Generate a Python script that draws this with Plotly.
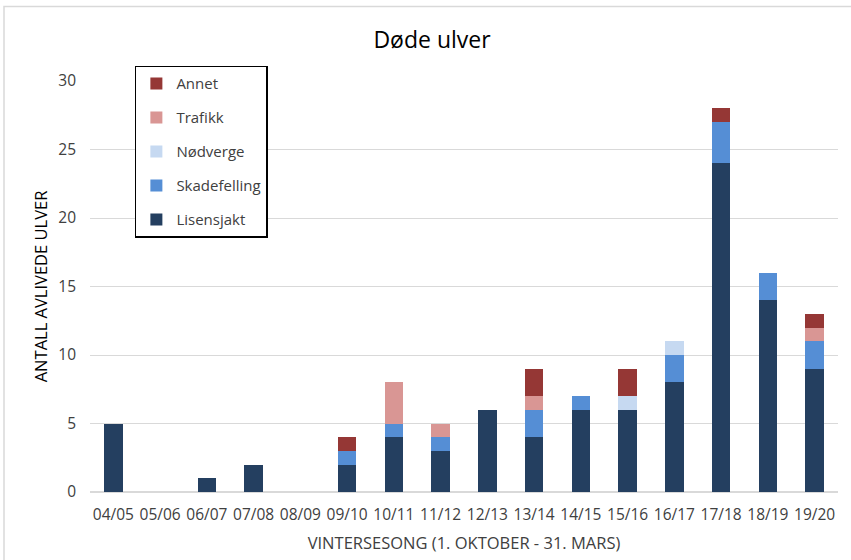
import plotly.graph_objects as go

seasons = ["04/05", "05/06", "06/07", "07/08", "08/09", "09/10", "10/11", "11/12",
           "12/13", "13/14", "14/15", "15/16", "16/17", "17/18", "18/19", "19/20"]
lisensjakt = [5, 0, 1, 2, 0, 2, 4, 3, 6, 4, 6, 6, 8, 24, 14, 9]
skadefelling = [0, 0, 0, 0, 0, 1, 1, 1, 0, 2, 1, 0, 2, 3, 2, 2]
nodverge = [0, 0, 0, 0, 0, 0, 0, 0, 0, 0, 0, 1, 1, 0, 0, 0]
trafikk = [0, 0, 0, 0, 0, 0, 3, 1, 0, 1, 0, 0, 0, 0, 0, 1]
annet = [0, 0, 0, 0, 0, 1, 0, 0, 0, 2, 0, 2, 0, 1, 0, 1]

series = [
    ("Lisensjakt", lisensjakt, "#243F60"),
    ("Skadefelling", skadefelling, "#558ED5"),
    ("Nødverge", nodverge, "#C6D9F1"),
    ("Trafikk", trafikk, "#D99694"),
    ("Annet", annet, "#953735"),
]

font = "'Open Sans', sans-serif"
txt = "#404040"

fig = go.Figure()
for i, (name, vals, color) in enumerate(series):
    fig.add_trace(go.Bar(
        x=seasons, y=vals, name=name, legendgroup=name,
        legendrank=len(series) - i,
        marker=dict(color=color, line=dict(width=0)),
    ))

fig.update_layout(
    barmode="stack",
    bargap=0.6,
    width=851, height=560,
    margin=dict(l=90, r=13, t=81, b=68),
    paper_bgcolor="white", plot_bgcolor="white",
    font=dict(family=font, size=15, color=txt),
    title=dict(text="Døde ulver", xref="container", x=432 / 851, xanchor="center",
               y=0.928, yanchor="middle",
               font=dict(size=23, color="#000000")),
    legend=dict(
        x=0.06, y=1.037, xanchor="left", yanchor="top",
        bordercolor="#000000", borderwidth=1.5, bgcolor="white",
        tracegroupgap=11.5, itemwidth=30,
        font=dict(size=15, color=txt),
    ),
    xaxis=dict(
        title=dict(text="VINTERSESONG (1. OKTOBER - 31. MARS)", font=dict(size=16.5, color=txt), standoff=13),
        tickfont=dict(size=15.5, color=txt),
        ticklabelstandoff=8,
        showline=True, linecolor="#D9D9D9", linewidth=1,
        ticks="",
    ),
    yaxis=dict(
        title=dict(text="ANTALL AVLIVEDE ULVER", font=dict(size=16.5, color="#000000"), standoff=6),
        range=[0, 30], dtick=5,
        tickfont=dict(size=15.5, color=txt),
        ticklabelstandoff=13,
        showgrid=True, gridcolor="#D9D9D9", gridwidth=1,
        zeroline=True, zerolinecolor="#D9D9D9",
        ticks="", ticklen=0,
    ),
    shapes=[dict(type="rect", xref="paper", yref="paper",
                 x0=(4 - 90) / 748, x1=(860 - 90) / 748,
                 y0=(492 - 570) / 411, y1=(492 - 6.5) / 411,
                 line=dict(color="#D9D9D9", width=1.5), layer="below")],
)

fig.write_html("out.html", config={"displayModeBar": False},
               post_script="document.body.style.margin='0';")
